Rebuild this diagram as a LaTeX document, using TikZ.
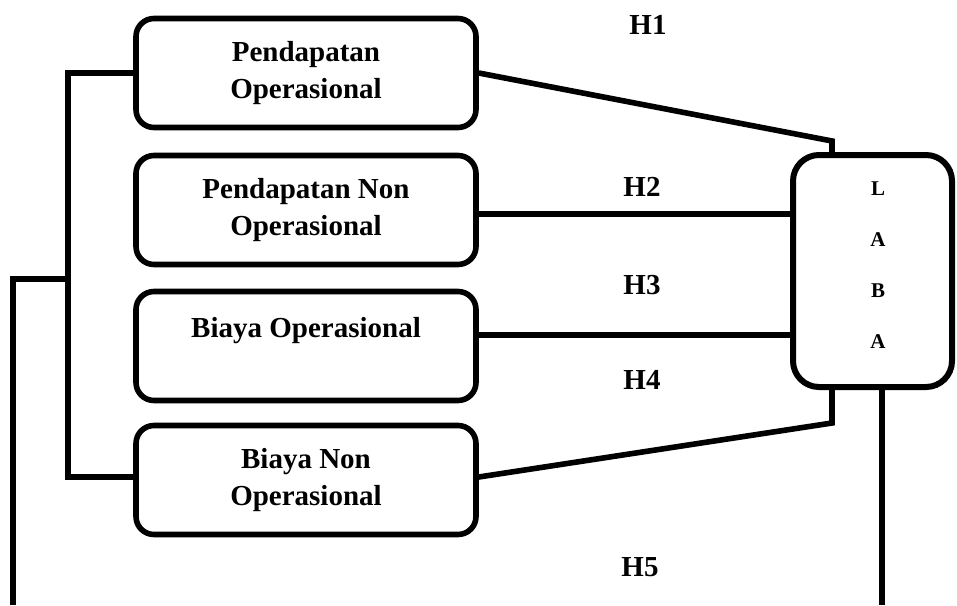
\documentclass[tikz,border=0pt]{standalone}
\usepackage{fontspec}
\setmainfont{Liberation Serif}

\tikzset{
    varbox/.style={draw, line width=2.8pt, rounded corners=9pt, minimum width=170pt,
        minimum height=54.5pt, align=center, font=\fontsize{14.5}{18.5}\selectfont\bfseries},
    lababox/.style={draw, line width=3pt, rounded corners=13pt, minimum width=79.5pt,
        minimum height=116pt},
    labatext/.style={align=center, font=\fontsize{10.5}{25.5}\selectfont\bfseries},
    hlabel/.style={font=\fontsize{14.5}{18.5}\selectfont\bfseries},
    link/.style={line width=2.8pt}
}

\begin{document}
\begin{tikzpicture}[x=0.5pt,y=-0.5pt]
            \useasboundingbox (0,0) rectangle (957,605);
            \node[varbox] (po) at (306,73) {Pendapatan\\Operasional};
            \node[varbox] (pno) at (306,210) {Pendapatan Non\\Operasional};
            \node[varbox] (bo) at (306,346) {Biaya Operasional\\~};
            \node[varbox] (bno) at (306,480) {Biaya Non\\Operasional};
            \node[lababox] (laba) at (872.5,271) {};
            \node[labatext] (labaword) at (878,265.5) {L\\A\\B\\A};
            \node[hlabel] (h1) at (648,25) {H1};
            \node[hlabel] (h2) at (642,187) {H2};
            \node[hlabel] (h3) at (642,285) {H3};
            \node[hlabel] (h4) at (642,380) {H4};
            \node[hlabel] (h5) at (640,567) {H5};
            \coordinate (top) at (832,141);
            \coordinate (bot) at (832,423);
            \coordinate (inner) at (68,279);
            \coordinate (outer) at (13,279);
            \coordinate (leftend) at (13,605);
            \coordinate (rightend) at (882,605);
            \draw[link] (po.east) -- (top) -- (top |- laba.north);
            \draw[link] ([yshift=-2pt]pno.east) -- ([yshift=-2pt]pno.east -| laba.west);
            \draw[link] ([yshift=5.5pt]bo.east) -- ([yshift=5.5pt]bo.east -| laba.west);
            \draw[link] ([yshift=1.5pt]bno.east) -- (bot) -- (bot |- laba.south);
            \draw[link] (po.west) -| (inner) |- ([yshift=1.5pt]bno.west);
            \draw[link] (inner) -- (outer) -- (leftend);
            \draw[link] (rightend |- laba.south) -- (rightend);
            \end{tikzpicture}
\end{document}
